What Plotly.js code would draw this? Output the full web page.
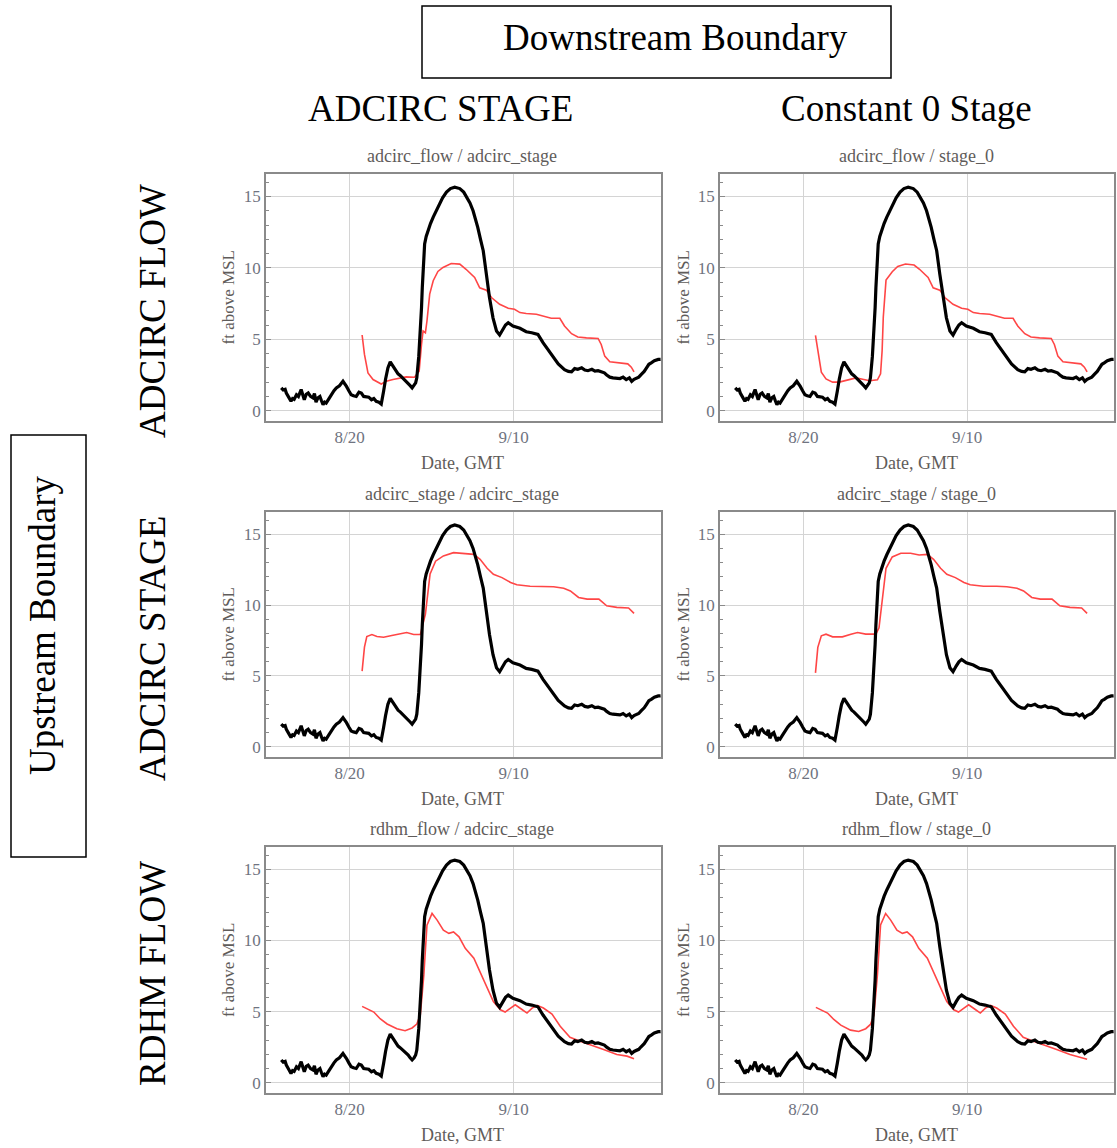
<!DOCTYPE html>
<html>
<head>
<meta charset="utf-8">
<script src="https://cdn.plot.ly/plotly-3.0.1.min.js"></script>
<style>html,body{margin:0;padding:0;background:#fff;}#chart{width:1117px;height:1148px;}</style>
</head>
<body>
<div id="chart"></div>
<script>
// Day numbers counted from August (Aug 1 = 1, Sep 1 = 32), year 2017
const obsDay = [11.25,11.5,11.75,11.9,12.2,12.5,12.7,12.9,13.2,13.45,13.8,14.0,14.2,14.45,14.7,15.0,15.3,15.5,15.7,15.95,16.2,16.4,16.6,16.8,17.0,17.3,17.65,18.0,18.3,18.7,19.15,19.4,19.6,19.9,20.2,20.5,20.85,21.2,21.5,21.8,22.1,22.45,22.8,23.1,23.4,23.75,24.05,24.2,24.35,24.6,24.9,25.2,25.55,25.9,26.2,26.5,26.8,27.2,27.5,27.75,28.0,28.25,28.45,28.6,28.75,28.85,28.96,29.1,29.2,29.3,29.4,29.5,29.6,29.8,30.0,30.35,30.7,31.1,31.5,31.9,32.4,32.9,33.45,34.1,34.6,35.0,35.4,35.8,36.1,36.4,36.75,37.1,37.5,37.9,38.35,38.8,39.2,39.6,39.95,40.3,40.9,41.8,42.6,43.3,44.1,44.75,45.4,46.0,46.7,47.5,48.0,48.4,48.8,49.2,49.7,50.1,50.5,51.0,51.4,51.8,52.2,52.6,52.9,53.3,53.7,54.2,54.6,55.0,55.4,55.8,56.1,56.4,56.7,57.0,57.3,57.7,58.0,58.3,58.6,59.0,59.5,59.8];
const obsStage = [1.6,1.45,1.5,1.24,0.95,0.66,0.85,0.8,1.12,1.0,1.48,1.1,0.77,1.15,1.24,1.0,0.9,1.2,0.6,0.9,1.0,0.7,0.42,0.6,0.54,0.8,1.12,1.4,1.6,1.75,2.06,1.9,1.7,1.4,1.12,1.05,1.0,1.3,1.24,1.0,1.0,0.95,0.77,0.85,0.66,0.6,0.47,0.8,1.36,2.2,3.0,3.42,3.1,2.8,2.58,2.45,2.3,2.1,1.95,1.75,1.6,1.75,1.95,2.3,3.0,3.8,4.87,6.0,7.2,8.6,10.0,10.9,11.67,12.2,12.6,13.1,13.55,14.0,14.5,14.9,15.3,15.55,15.65,15.55,15.3,14.95,14.55,14.0,13.45,12.84,12.0,11.2,9.56,7.92,6.5,5.58,5.3,5.7,6.0,6.16,5.93,5.77,5.53,5.46,5.34,4.76,4.29,3.82,3.28,2.88,2.75,2.72,2.95,2.9,3.0,2.85,2.8,2.9,2.77,2.8,2.75,2.65,2.5,2.35,2.3,2.3,2.25,2.35,2.18,2.3,2.06,2.2,2.25,2.35,2.53,2.75,3.0,3.25,3.35,3.5,3.59,3.6];

const flowAdcStageDay = [21.6,21.9,22.35,23.0,24.05,24.7,25.55,26.4,27.25,28.3,28.9,29.2,29.4,29.7,29.9,30.25,30.7,31.3,31.95,33.0,34.1,34.9,36.0,36.65,37.5,38.15,39.2,40.3,41.1,41.8,42.6,43.9,45.2,45.8,46.9,47.5,48.4,49.2,50.3,51.8,52.2,52.65,53.3,54.6,55.6,56.05,56.4];
const flowAdcStageVal = [5.3,3.94,2.65,2.18,1.87,2.06,2.18,2.3,2.37,2.34,2.77,4.64,5.58,5.46,6.28,8.16,9.1,9.75,10.03,10.3,10.26,9.9,9.33,8.6,8.44,7.92,7.45,7.17,7.1,6.87,6.8,6.75,6.56,6.47,6.47,5.93,5.39,5.16,5.1,5.06,4.64,3.82,3.42,3.35,3.28,3.05,2.72];

const flowStage0Day = [21.55,21.85,22.3,22.9,23.75,24.6,25.7,26.75,27.6,28.5,29.5,29.9,30.1,30.25,30.6,31.4,32.1,33.1,34.2,34.9,36.0,36.65,37.5,38.15,39.2,40.3,41.1,41.8,42.6,43.9,45.2,45.8,46.9,47.5,48.4,49.2,50.3,51.8,52.2,52.65,53.3,54.6,55.6,56.05,56.4];
const flowStage0Val = [5.27,4.22,2.7,2.23,2.0,2.0,2.16,2.3,2.2,2.1,2.16,2.58,4.2,6.56,9.14,9.73,10.1,10.27,10.2,9.9,9.33,8.6,8.44,7.92,7.45,7.17,7.1,6.87,6.8,6.75,6.56,6.47,6.47,5.93,5.39,5.16,5.1,5.06,4.64,3.82,3.42,3.35,3.28,3.05,2.72];

const stageAdcStageDay = [21.6,21.9,22.2,22.85,23.5,24.35,25.4,26.5,27.3,28.2,29.05,29.7,30.3,31.0,32.0,33.3,34.6,35.9,36.7,37.6,38.4,39.5,40.6,41.4,43.1,44.8,46.1,47.4,48.25,49.3,50.4,51.9,52.9,54.2,55.7,56.4];
const stageAdcStageVal = [5.34,7.03,7.78,7.92,7.78,7.73,7.85,8.0,8.06,7.92,7.92,9.37,12.2,13.1,13.47,13.7,13.63,13.58,13.23,12.6,12.18,11.94,11.6,11.43,11.33,11.33,11.29,11.19,11.0,10.54,10.42,10.42,9.95,9.84,9.8,9.42];

const stageStage0Day = [21.55,21.85,22.3,22.9,23.75,25.0,26.1,26.95,28.0,29.3,29.7,30.15,30.6,31.4,32.5,33.75,34.85,35.9,36.7,37.6,38.4,39.5,40.6,41.4,43.1,44.8,46.1,47.4,48.25,49.3,50.4,51.9,52.9,54.2,55.7,56.4];
const stageStage0Val = [5.22,7.02,7.83,7.95,7.76,7.76,7.95,8.07,7.95,7.95,8.4,10.75,12.6,13.4,13.66,13.66,13.54,13.58,13.23,12.6,12.18,11.94,11.6,11.43,11.33,11.33,11.29,11.19,11.0,10.54,10.42,10.42,9.95,9.84,9.8,9.42];

const rdhmAdcStageDay = [21.6,22.2,23.1,23.9,24.8,26.05,27.1,28.0,28.6,29.05,29.5,29.9,30.55,31.2,32.0,32.7,33.3,34.0,34.8,35.9,36.7,37.6,38.4,39.3,39.9,40.6,41.2,42.1,42.7,43.35,44.0,44.8,45.9,46.95,48.2,49.5,50.8,52.5,54.2,55.5,56.4];
const rdhmAdcStageVal = [5.37,5.2,4.97,4.5,4.13,3.8,3.66,3.85,4.13,4.78,7.58,11.08,11.9,11.43,10.73,10.5,10.6,10.26,9.45,8.75,7.81,6.65,5.71,5.13,4.97,5.25,5.48,5.13,4.9,5.25,5.43,5.25,4.83,3.97,3.2,2.92,2.68,2.33,1.98,1.87,1.68];

const rdhmStage0Day = [21.6,22.2,23.1,23.9,24.8,26.05,27.1,28.0,28.6,29.05,29.5,29.9,30.55,31.2,32.0,32.7,33.3,34.0,34.8,35.9,36.7,37.6,38.4,39.3,39.9,40.6,41.2,42.1,42.7,43.35,44.0,44.8,45.9,46.95,48.2,49.5,50.8,52.5,54.2,55.5,56.4];
const rdhmStage0Val = [5.3,5.15,4.9,4.45,4.05,3.7,3.6,3.8,4.1,4.75,7.6,11.1,11.9,11.43,10.73,10.5,10.6,10.26,9.45,8.75,7.81,6.65,5.71,5.13,4.97,5.25,5.48,5.13,4.9,5.25,5.43,5.25,4.83,3.97,3.2,2.92,2.68,2.33,1.98,1.8,1.65];

const panelTitles = ["adcirc_flow / adcirc_stage","adcirc_flow / stage_0","adcirc_stage / adcirc_stage","adcirc_stage / stage_0","rdhm_flow / adcirc_stage","rdhm_flow / stage_0"];
const columnLabels = ["ADCIRC STAGE","Constant 0 Stage"];
const rowLabels = ["ADCIRC FLOW","ADCIRC STAGE","RDHM FLOW"];
const xTickDays = [20, 41];
const xTickText = ["8/20","9/10"];
const yTicks = [0,5,10,15];

function toDate(d){
  const ms = Date.UTC(2017,7,1) + (d-1)*86400000;
  return new Date(ms).toISOString().replace('T',' ').slice(0,19);
}

const W = 1117, H = 1148;
const px = x => x / W;
const py = y => 1 - y / H;

const colDom = [[266/W, 661/W],[720/W, 1114/W]];
const rowDom = [[py(421), py(174)],[py(757), py(512)],[py(1093), py(847)]];
const colCenter = [462, 916];
const rowTop = [174, 512, 847];
const rowBottom = [421, 757, 1093];

const redSets = [
  [flowAdcStageDay, flowAdcStageVal],[flowStage0Day, flowStage0Val],
  [stageAdcStageDay, stageAdcStageVal],[stageStage0Day, stageStage0Val],
  [rdhmAdcStageDay, rdhmAdcStageVal],[rdhmStage0Day, rdhmStage0Val]
];

const serif = "Liberation Serif, Times New Roman, serif";
const gray = "#6f7380";
const labelGray = "#5f5c5a";
const traces = [];
const layout = {
  width: W, height: H,
  margin: {l:0, r:0, t:0, b:0},
  paper_bgcolor: "#fff", plot_bgcolor: "#fff",
  showlegend: false,
  font: {family: serif, color: gray, size: 14},
  annotations: [], shapes: []
};

const obsX = obsDay.map(toDate);
for (let i = 0; i < 6; i++) {
  const r = Math.floor(i/2), c = i % 2;
  const n = i + 1;
  const xa = n === 1 ? 'x' : 'x' + n;
  const ya = n === 1 ? 'y' : 'y' + n;
  traces.push({x: redSets[i][0].map(toDate), y: redSets[i][1], xaxis: xa, yaxis: ya, mode: 'lines',
    line: {color: 'rgb(255,70,70)', width: 1.6}, hoverinfo: 'skip'});
  traces.push({x: obsX, y: obsStage, xaxis: xa, yaxis: ya, mode: 'lines',
    line: {color: '#000', width: 3.2}, hoverinfo: 'skip'});
  layout['xaxis' + (n===1?'':n)] = {
    type: 'date', domain: colDom[c], anchor: ya,
    range: [toDate(9.3), toDate(59.85)],
    tickvals: xTickDays.map(toDate), ticktext: xTickText,
    showgrid: true, gridcolor: '#d4d4d4', gridwidth: 1,
    showline: true, mirror: true, linecolor: '#8a8a8a', linewidth: 1.8,
    ticks: '', zeroline: false,
    tickfont: {family: serif, size: 17, color: gray}
  };
  layout['yaxis' + (n===1?'':n)] = {
    domain: rowDom[r], anchor: xa,
    range: [-0.72, 16.57],
    tickvals: yTicks,
    showgrid: true, gridcolor: '#d4d4d4', gridwidth: 1,
    showline: true, mirror: true, linecolor: '#8a8a8a', linewidth: 1.8,
    ticks: 'inside', ticklen: 5, tickcolor: '#8a8a8a',
    minor: {dtick: 1, ticks: 'inside', ticklen: 3, tickcolor: '#8a8a8a', showgrid: false},
    zeroline: false,
    tickfont: {family: serif, size: 17, color: gray}
  };
  layout.annotations.push({text: panelTitles[i], xref:'paper', yref:'paper', x: px(colCenter[c]), y: py(rowTop[r]-18),
    showarrow:false, xanchor:'center', yanchor:'middle', font:{family: serif, size: 18, color: labelGray}});
  layout.annotations.push({text: 'Date, GMT', xref:'paper', yref:'paper', x: px(colCenter[c]), y: py(rowBottom[r]+42),
    showarrow:false, xanchor:'center', yanchor:'middle', font:{family: serif, size: 18, color: labelGray}});
  layout.annotations.push({text: 'ft above MSL', xref:'paper', yref:'paper', x: px(c===0?228:683), y: py((rowTop[r]+rowBottom[r])/2),
    showarrow:false, textangle:-90, xanchor:'center', yanchor:'middle', font:{family: serif, size: 17, color: labelGray}});
}

// Big headings
layout.shapes.push({type:'rect', xref:'paper', yref:'paper', x0:px(422), x1:px(891), y0:py(78), y1:py(6), line:{color:'#000', width:1.5}});
layout.annotations.push({text:'Downstream Boundary', xref:'paper', yref:'paper', x:px(675), y:py(38), showarrow:false,
  xanchor:'center', yanchor:'middle', font:{family: serif, size: 37, color:'#000'}});
layout.annotations.push({text:columnLabels[0], xref:'paper', yref:'paper', x:px(440), y:py(108), showarrow:false,
  xanchor:'center', yanchor:'middle', font:{family: serif, size: 37, color:'#000'}});
layout.annotations.push({text:columnLabels[1], xref:'paper', yref:'paper', x:px(906), y:py(108), showarrow:false,
  xanchor:'center', yanchor:'middle', font:{family: serif, size: 37, color:'#000'}});
const rowLabelY = [311, 648, 973];
for (let r = 0; r < 3; r++) {
  layout.annotations.push({text:rowLabels[r], xref:'paper', yref:'paper', x:px(152), y:py(rowLabelY[r]), showarrow:false,
    textangle:-90, xanchor:'center', yanchor:'middle', font:{family: serif, size: 37, color:'#000'}});
}
layout.shapes.push({type:'rect', xref:'paper', yref:'paper', x0:px(11), x1:px(86), y0:py(857), y1:py(435), line:{color:'#000', width:1.5}});
layout.annotations.push({text:'Upstream Boundary', xref:'paper', yref:'paper', x:px(42), y:py(625), showarrow:false,
  textangle:-90, xanchor:'center', yanchor:'middle', font:{family: serif, size: 37, color:'#000'}});

Plotly.newPlot('chart', traces, layout, {staticPlot: true, displayModeBar: false});
</script>
</body>
</html>
